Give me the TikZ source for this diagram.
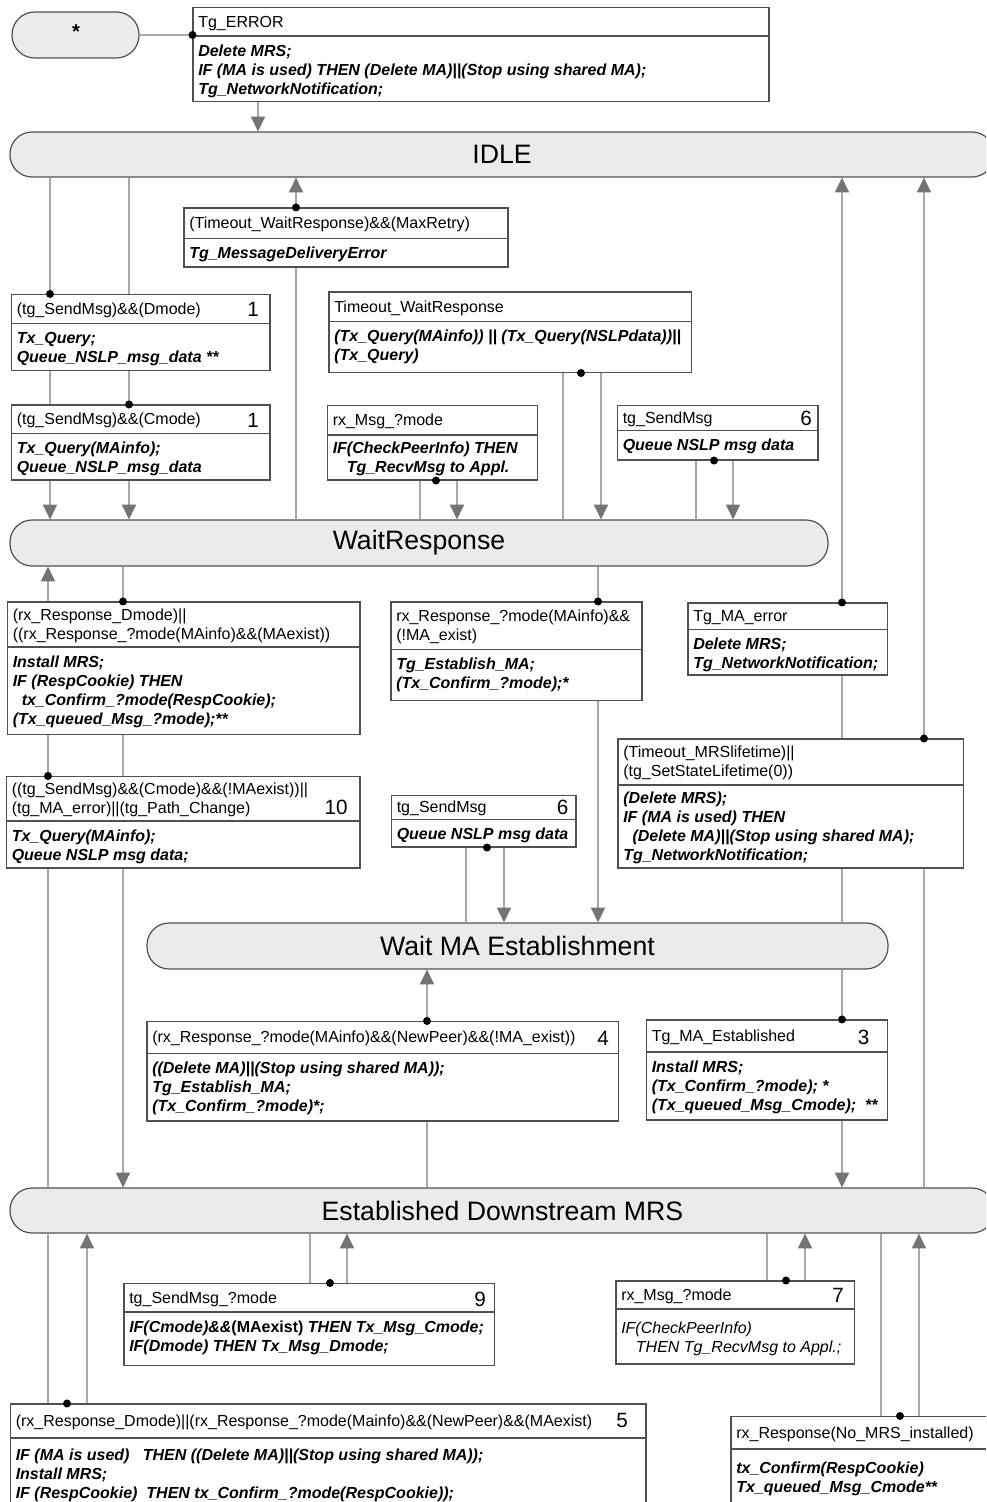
\documentclass[tikz,border=0pt]{standalone}
\usepackage{fontspec}
\setmainfont{Liberation Sans}
\usetikzlibrary{arrows.meta,fit}
\definecolor{stfill}{HTML}{EBEBEB}
\definecolor{bordc}{HTML}{505050}
\definecolor{linc}{HTML}{A8A8A8}
\definecolor{arrc}{HTML}{747474}
\pgfdeclarelayer{bg}
\pgfsetlayers{bg,main}
\newcommand\hdrfont{\fontsize{12}{14.25}\selectfont}
\newcommand\actfont{\fontsize{12}{14.25}\selectfont\bfseries\itshape}
\tikzset{
  stt/.style={draw=bordc, fill=stfill, line width=0.9pt, inner sep=0pt, rounded corners=16.5pt},
  sttxt/.style={inner sep=0pt, font=\fontsize{20}{24}\selectfont},
  tbx/.style={draw=bordc, fill=white, line width=0.8pt, inner sep=0pt},
  divl/.style={draw=bordc, line width=0.8pt},
  hdr/.style={inner sep=0pt, align=left, font=\hdrfont},
  act/.style={inner sep=0pt, align=left, font=\actfont},
  numt/.style={inner sep=0pt, font=\fontsize{15.5}{18}\selectfont},
  conn/.style={draw=linc, line width=0.8pt},
  arr/.style={conn, -{Triangle[length=11pt,width=10.5pt,color=arrc]}},
  dotc/.style={fill=black},
}
% #1 action style, #2 name, #3 x1, #4 y1, #5 x2, #6 y2, #7 divider y, #8 header, #9 actions
\newcommand\tbox[9][]{%
  \node[tbx, fit={(#3,#4) (#5,#6)}] (#2) {};
  \draw[divl] (#3,#7) -- (#5,#7);
  \node[hdr, anchor=west] (#2-h) at (#3+5,{(#4+#7)/2+1.5}) {\strut#8\strut};
  \node[act, anchor=north west, #1] (#2-a) at (#3+5,#7+6.5) {\strut#9\strut};
}
\newcommand\tdot[1]{\fill[dotc] #1 circle[radius=3pt];}
\begin{document}
\begin{tikzpicture}[x=0.75pt,y=-0.75pt]
\useasboundingbox (0,0) rectangle (986,1502);
\clip (0,0) rectangle (986,1502);

% states
\node[stt, rounded corners=17pt, fit={(12,12) (139,58)}] (st) {};
\node[sttxt, font=\fontsize{15}{18}\selectfont\bfseries] (st-t) at (76,32) {*};
\node[stt, fit={(10,132) (994,177)}] (idle) {};
\node[sttxt] (idle-t) at (502,154.5) {IDLE};
\node[stt, fit={(10,520) (828,566)}] (wr) {};
\node[sttxt] (wr-t) at (wr.center) {WaitResponse};
\node[stt, fit={(147,923) (888,969)}] (wma) {};
\node[sttxt] (wma-t) at (wma.center) {Wait MA Establishment};
\node[stt, fit={(10,1188) (994,1233)}] (est) {};
\node[sttxt] (est-t) at (502.5,1210.5) {Established Downstream MRS};

% transition boxes
\tbox{terr}{193}{7.5}{769}{101.5}{36}{Tg\_ERROR}{Delete MRS;\\IF (MA is used) THEN (Delete MA)||(Stop using shared MA);\\Tg\_NetworkNotification;}
\tbox{tmax}{184}{208}{508}{267}{238.5}{(Timeout\_WaitResponse)\&\&(MaxRetry)}{Tg\_MessageDeliveryError}
\tbox{b1d}{11.5}{294.5}{270}{370.5}{323.5}{(tg\_SendMsg)\&\&(Dmode)}{Tx\_Query;\\Queue\_NSLP\_msg\_data **}
\node[numt] (b1d-n) at (253,309) {1};
\tbox{b1c}{11.5}{405}{270}{480}{433.5}{(tg\_SendMsg)\&\&(Cmode)}{Tx\_Query(MAinfo);\\Queue\_NSLP\_msg\_data}
\node[numt] (b1c-n) at (253,420) {1};
\tbox{twr}{329}{292}{691.5}{372.5}{321.5}{Timeout\_WaitResponse}{(Tx\_Query(MAinfo)) || (Tx\_Query(NSLPdata))||\\(Tx\_Query)}
\tbox[yshift=1pt]{rxma1}{327.5}{405.5}{537.5}{480}{435}{rx\_Msg\_?mode}{IF(CheckPeerInfo) THEN\\\hspace*{10.5pt}Tg\_RecvMsg to Appl.}
\tbox{snda}{617.5}{405.5}{818}{460}{430.5}{tg\_SendMsg}{Queue NSLP msg data}
\node[numt] (snda-n) at (806,418) {6};
\tbox{rxd}{7.5}{602}{360}{734.5}{647}{(rx\_Response\_Dmode)||\\((rx\_Response\_?mode(MAinfo)\&\&(MAexist))}{Install MRS;\\IF (RespCookie) THEN\\\hspace*{6.75pt}tx\_Confirm\_?mode(RespCookie);\\(Tx\_queued\_Msg\_?mode);**}
\tbox{rxma}{391}{602}{642}{700.5}{649.5}{rx\_Response\_?mode(MAinfo)\&\&\\(!MA\_exist)}{Tg\_Establish\_MA;\\(Tx\_Confirm\_?mode);*}
\tbox{maerr}{688}{603}{887.5}{675}{629.5}{Tg\_MA\_error}{Delete MRS;\\Tg\_NetworkNotification;}
\tbox[yshift=1pt]{mrslt}{618}{739}{963.5}{868}{785}{(Timeout\_MRSlifetime)||\\(tg\_SetStateLifetime(0))}{(Delete MRS);\\IF (MA is used) THEN\\\hspace*{7pt}(Delete MA)||(Stop using shared MA);\\Tg\_NetworkNotification;}
\tbox{b10}{6.5}{776.5}{360}{868}{821}{((tg\_SendMsg)\&\&(Cmode)\&\&(!MAexist))||\\(tg\_MA\_error)||(tg\_Path\_Change)}{Tx\_Query(MAinfo);\\Queue NSLP msg data;}
\node[numt] (b10-n) at (336,807.5) {10};
\tbox{sndb}{391.5}{795.5}{576}{847}{819.5}{tg\_SendMsg}{Queue NSLP msg data}
\node[numt] (sndb-n) at (562.5,807) {6};
\tbox{b4}{147}{1021.5}{618.5}{1121}{1053.5}{(rx\_Response\_?mode(MAinfo)\&\&(NewPeer)\&\&(!MA\_exist))}{((Delete MA)||(Stop using shared MA));\\Tg\_Establish\_MA;\\(Tx\_Confirm\_?mode)*;}
\node[numt] (b4-n) at (603,1038) {4};
\tbox{b3}{646.5}{1020}{887.5}{1120}{1052}{Tg\_MA\_Established}{Install MRS;\\(Tx\_Confirm\_?mode); *\\(Tx\_queued\_Msg\_Cmode);\ \ **}
\node[numt] (b3-n) at (863.5,1037) {3};
\tbox{b9}{124}{1283.5}{494.5}{1365.5}{1312}{tg\_SendMsg\_?mode}{IF(Cmode)\&\&{\upshape(MAexist)} THEN Tx\_Msg\_Cmode;\\IF(Dmode) THEN Tx\_Msg\_Dmode;}
\node[numt] (b9-n) at (480,1299) {9};
\tbox[font=\fontsize{12}{14.25}\selectfont\itshape, yshift=-3.5pt]{b7}{616}{1281}{854.5}{1364}{1309}{rx\_Msg\_?mode}{IF(CheckPeerInfo)\\\hspace*{11pt}THEN Tg\_RecvMsg to Appl.;}
\node[numt] (b7-n) at (838,1295) {7};
\tbox[yshift=-1.5pt]{b5}{10.5}{1404}{646}{1520}{1438}{(rx\_Response\_Dmode)||(rx\_Response\_?mode(Mainfo)\&\&(NewPeer)\&\&(MAexist)}{IF (MA is used)\ \ \ THEN ((Delete MA)||(Stop using shared MA));\\Install MRS;\\IF (RespCookie)\ \ THEN tx\_Confirm\_?mode(RespCookie));}
\node[numt] (b5-n) at (622,1420.5) {5};
\tbox[yshift=-3pt]{nomrs}{731}{1416.5}{1000}{1520}{1449}{rx\_Response(No\_MRS\_installed)}{tx\_Confirm(RespCookie)\\Tx\_queued\_Msg\_Cmode**}

% connectors
\begin{pgfonlayer}{bg}
\draw[conn] (st.east |- 0,35) -- (terr.west |- 0,35);
\draw[arr] (terr.south -| 258,0) -- (idle.north -| 258,0);
% IDLE -> WaitResponse via boxes 1
\draw[conn] (idle.south -| 50,0) -- (b1d.north -| 50,0);
\draw[conn] (b1d.south -| 50,0) -- (b1c.north -| 50,0);
\draw[arr] (b1c.south -| 50,0) -- (wr.north -| 50,0);
\draw[conn] (idle.south -| 129,0) -- (b1d.north -| 129,0);
\draw[conn] (b1d.south -| 129,0) -- (b1c.north -| 129,0);
\draw[arr] (b1c.south -| 129,0) -- (wr.north -| 129,0);
% max retry
\draw[conn] (wr.north -| 296,0) -- (tmax.south -| 296,0);
\draw[arr] (tmax.north -| 296,0) -- (idle.south -| 296,0);
% self loops on WaitResponse
\draw[conn] (wr.north -| 563,0) -- (twr.south -| 563,0);
\draw[arr] (twr.south -| 601,0) -- (wr.north -| 601,0);
\draw[conn] (wr.north -| 420,0) -- (rxma1.south -| 420,0);
\draw[arr] (rxma1.south -| 457,0) -- (wr.north -| 457,0);
\draw[conn] (wr.north -| 696,0) -- (snda.south -| 696,0);
\draw[arr] (snda.south -| 733,0) -- (wr.north -| 733,0);
% right side up to IDLE
\draw[arr] (maerr.north -| 842,0) -- (idle.south -| 842,0);
\draw[conn] (maerr.south -| 842,0) -- (wma.north -| 842,0);
\draw[arr] (mrslt.north -| 924,0) -- (idle.south -| 924,0);
\draw[conn] (mrslt.south -| 924,0) -- (est.north -| 924,0);
% WaitResponse -> rx_Response_Dmode
\draw[conn] (wr.south -| 123,0) -- (rxd.north -| 123,0);
\draw[arr] (rxd.north -| 48,0) -- (wr.south -| 48,0);
\draw[conn] (rxd.south -| 48,0) -- (b10.north -| 48,0);
\draw[conn] (rxd.south -| 123,0) -- (b10.north -| 123,0);
\draw[conn] (b10.south -| 48,0) -- (est.north -| 48,0);
\draw[arr] (b10.south -| 123,0) -- (est.north -| 123,0);
% WaitResponse -> Wait MA Establishment
\draw[conn] (wr.south -| 598,0) -- (rxma.north -| 598,0);
\draw[arr] (rxma.south -| 598,0) -- (wma.north -| 598,0);
\draw[conn] (wma.north -| 466,0) -- (sndb.south -| 466,0);
\draw[arr] (sndb.south -| 504,0) -- (wma.north -| 504,0);
% Wait MA Establishment <-> Established
\draw[conn] (est.north -| 427,0) -- (b4.south -| 427,0);
\draw[arr] (b4.north -| 427,0) -- (wma.south -| 427,0);
\draw[conn] (wma.south -| 842,0) -- (b3.north -| 842,0);
\draw[arr] (b3.south -| 842,0) -- (est.north -| 842,0);
% self loops on Established
\draw[conn] (est.south -| 310,0) -- (b9.north -| 310,0);
\draw[arr] (b9.north -| 347,0) -- (est.south -| 347,0);
\draw[conn] (est.south -| 767,0) -- (b7.north -| 767,0);
\draw[arr] (b7.north -| 805,0) -- (est.south -| 805,0);
\draw[conn] (est.south -| 881,0) -- (nomrs.north -| 881,0);
\draw[arr] (nomrs.north -| 919,0) -- (est.south -| 919,0);
\draw[conn] (est.south -| 48,0) -- (b5.north -| 48,0);
\draw[arr] (b5.north -| 87,0) -- (est.south -| 87,0);
\end{pgfonlayer}

% dots
\tdot{(terr.west |- 0,35)}
\tdot{(b1d.north -| 50,0)}
\tdot{(b1c.north -| 129,0)}
\tdot{(tmax.north -| 296,0)}
\tdot{(twr.south -| 581,0)}
\tdot{(rxma1.south -| 436,0)}
\tdot{(snda.south -| 714,0)}
\tdot{(maerr.north -| 842,0)}
\tdot{(mrslt.north -| 924,0)}
\tdot{(rxd.north -| 123,0)}
\tdot{(b10.north -| 48,0)}
\tdot{(rxma.north -| 598,0)}
\tdot{(sndb.south -| 487,0)}
\tdot{(b4.north -| 427,0)}
\tdot{(b3.north -| 842,0)}
\tdot{(b9.north -| 330,0)}
\tdot{(b7.north -| 786,0)}
\tdot{(nomrs.north -| 900,0)}
\tdot{(b5.north -| 67,0)}
\end{tikzpicture}
\end{document}
